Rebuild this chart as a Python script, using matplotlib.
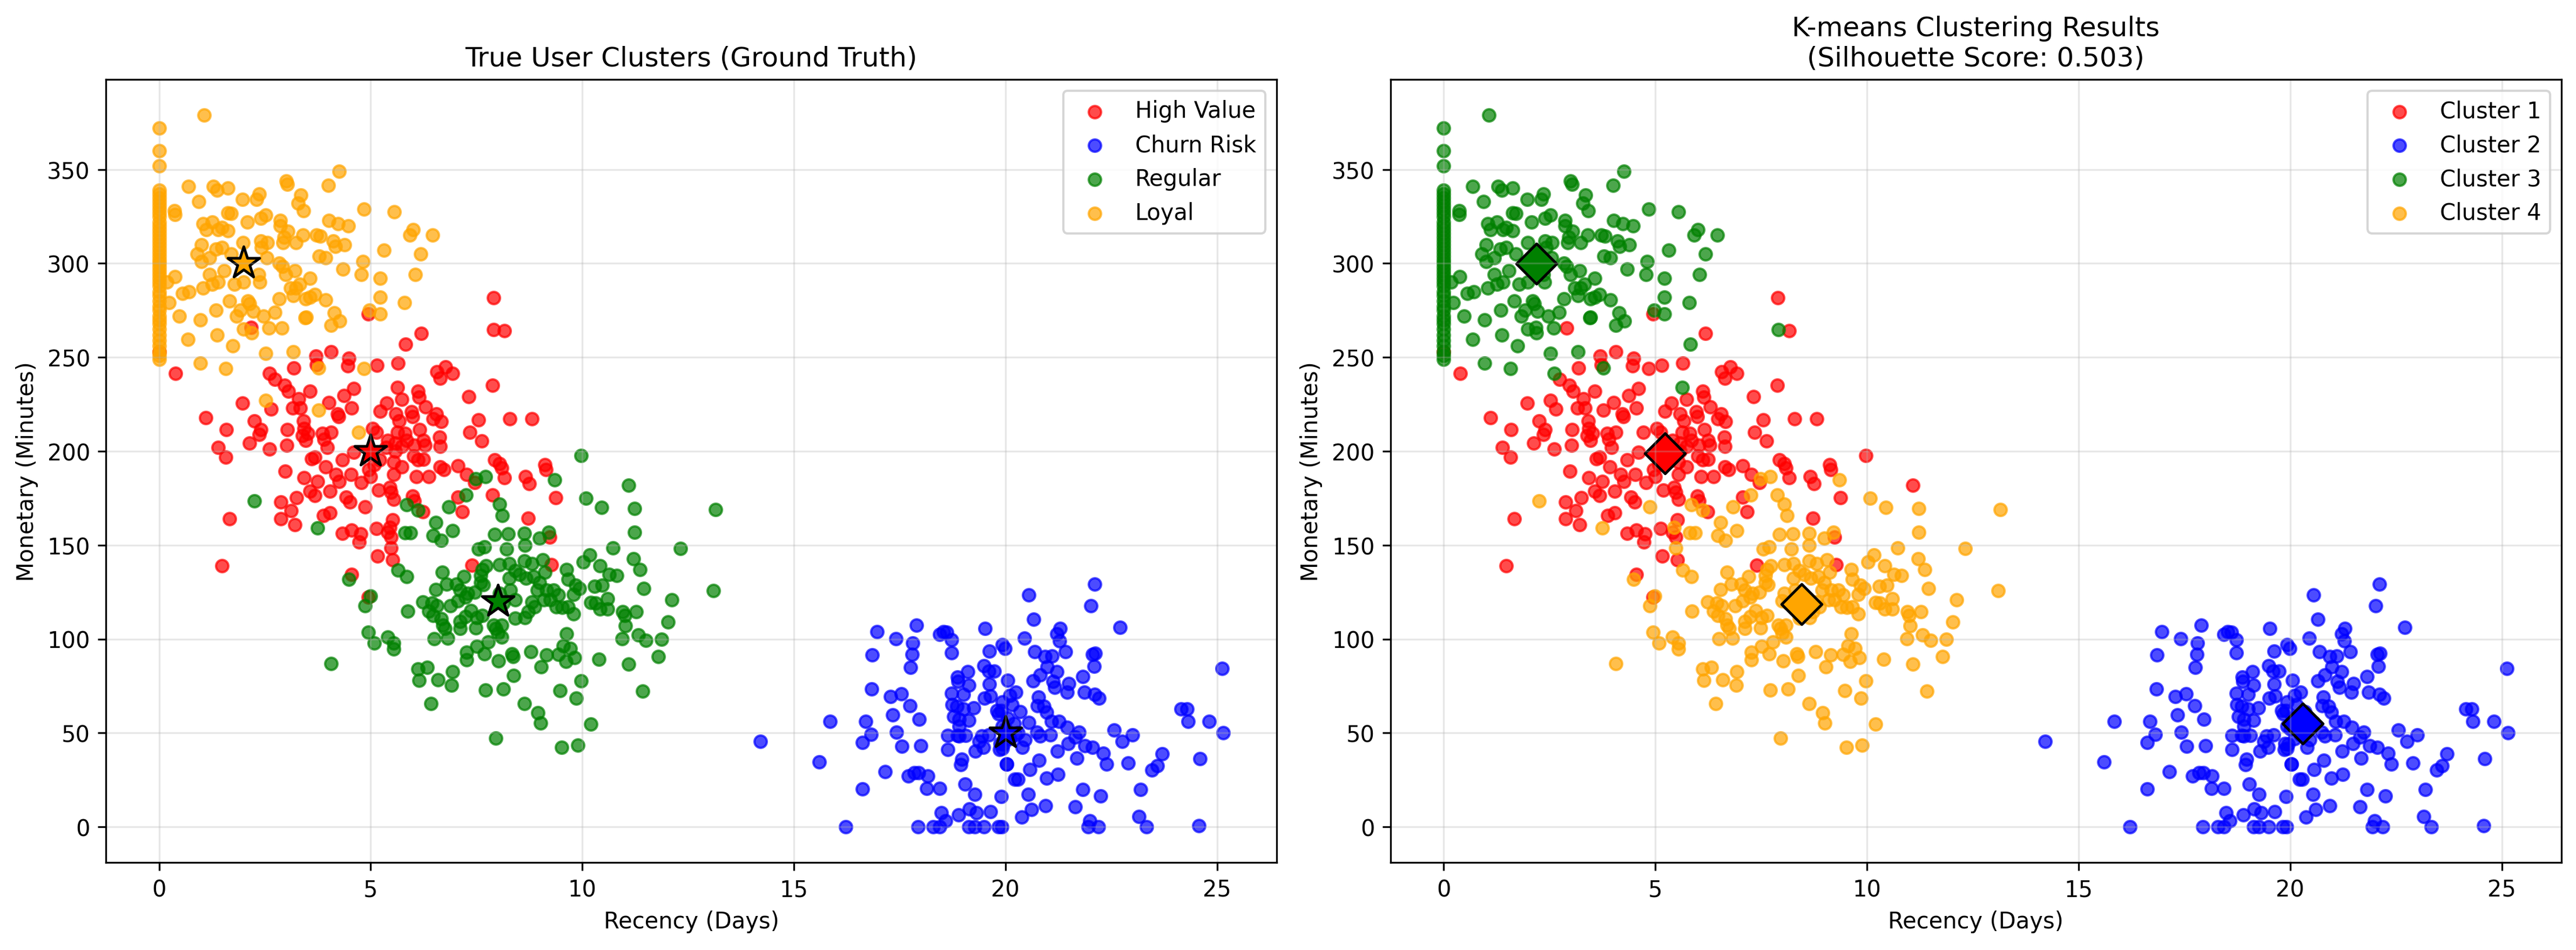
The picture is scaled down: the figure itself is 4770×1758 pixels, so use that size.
import numpy as np
import matplotlib
matplotlib.use("Agg")
import matplotlib.pyplot as plt

# ----------------------------
# Data
# ----------------------------

segment_names = ["High Value", "Churn Risk", "Regular", "Loyal"]
segment_colors = ["red", "blue", "green", "orange"]
cluster_names = ["Cluster 1", "Cluster 2", "Cluster 3", "Cluster 4"]
cluster_colors = ["red", "blue", "green", "orange"]

# High Value users (recency, monetary); the last points were re-assigned by k-means
high_value_pts = [
    (8.16, 264.1), (6.19, 262.8), (4.06, 253), (3.70, 250.6), (4.49, 249.4), (4.46, 245.5),
    (5.15, 245.8), (5.65, 246.8), (3.18, 244.2), (0.39, 241.3), (2.74, 238.4), (6.57, 242.3),
    (6.77, 244.9), (6.64, 238.8), (6.93, 241.3), (7.88, 235), (2.97, 235), (3.06, 232),
    (3.57, 232), (4.60, 233.3), (4.37, 229.5), (6.12, 232), (6.14, 228.8), (5.74, 227.5),
    (7.32, 229.2), (1.97, 225.6), (3.30, 227.8), (3.34, 223), (4.01, 226), (3.16, 223),
    (2.65, 222.4), (4.55, 223), (4.22, 220), (4.24, 218.5), (5.38, 225.6), (5.23, 221.4),
    (5.59, 220), (6.30, 223.7), (5.97, 221), (5.99, 218.5), (6.55, 219.8), (6.66, 215.7),
    (6.48, 217.3), (1.10, 217.9), (7.55, 216.6), (8.29, 217.3), (8.81, 217.3), (2.25, 216),
    (2.40, 211.5), (2.36, 208.9), (1.59, 211.5), (3.03, 211.5), (3.41, 216), (3.43, 212),
    (3.39, 208.3), (3.52, 209.6), (3.86, 209.6), (4.06, 210.2), (3.90, 206.4), (5.04, 212),
    (5.13, 210.2), (5.67, 216), (5.63, 210.2), (5.81, 209.6), (6.16, 211.5), (6.63, 207.6),
    (7.34, 210.2), (7.62, 205.5), (3.46, 205.7), (2.13, 204.4), (1.39, 201.9), (1.58, 196.7),
    (2.61, 201.2), (3.02, 203.1), (3.97, 201.9), (3.68, 196.7), (3.61, 196), (4.60, 199.3),
    (5.40, 205.7), (5.58, 204.4), (5.85, 205.7), (5.36, 201.9), (5.58, 200), (5.74, 202.5),
    (6.03, 203.1), (6.25, 205.7), (6.28, 203.1), (6.64, 202.5), (6.01, 197.4), (6.12, 195.4),
    (6.25, 195.7), (5.21, 195.4), (5.09, 192.9), (5.54, 194.2), (4.33, 195.4), (3.93, 191.6),
    (2.98, 189.4), (3.43, 185.8), (3.75, 183.9), (4.18, 187.7), (4.53, 187.5), (4.96, 190.3),
    (5.74, 191.6), (5.54, 187.7), (6.08, 186.5), (6.37, 186.5), (6.64, 191.6), (6.73, 190.3),
    (7.06, 192.2), (7.27, 187.7), (7.93, 195.4), (8.05, 193.5), (8.09, 191), (8.16, 185.8),
    (7.46, 183.2), (9.12, 192.9), (9.14, 190.3), (8.66, 186.5), (8.75, 182.6), (9.37, 175.2),
    (7.06, 175.5), (7.17, 167.8), (8.72, 164.4), (4.26, 183.9), (4.78, 183.2), (5.00, 186.5),
    (5.45, 180.7), (5.48, 178.1), (5.19, 179.4), (4.04, 178.8), (3.57, 178.8), (3.68, 176.5),
    (4.42, 175.5), (4.51, 173), (5.54, 174.3), (5.99, 176.2), (6.03, 173.6), (2.88, 173),
    (3.25, 175.2), (3.12, 168.5), (6.23, 167.8), (1.67, 164), (2.88, 164), (3.21, 160.8),
    (3.88, 165.9), (4.04, 167.2), (4.33, 156.3), (4.55, 158), (4.76, 155.9), (4.73, 151.8),
    (5.13, 158.9), (5.40, 156.9), (5.48, 154.4), (5.52, 163.4), (5.16, 144.1), (5.52, 142.2),
    (1.48, 139), (7.39, 139.2), (9.27, 139.6), (9.23, 154.4), (4.55, 134.4), (4.94, 122.3),
    (7.90, 281.6), (4.94, 273), (0.0, 253), (3.72, 246),
    # re-assigned by k-means
    (4.87, 170.4), (5.45, 159.5), (7.88, 176.6), (5.48, 148.6),
    (7.91, 264.8), (5.63, 234), (2.61, 241.3), (5.83, 257), (2.18, 266),
]
high_value_km_tail = [4, 4, 4, 4, 3, 3, 3, 3, 3]

churn_pts = [
    (14.21, 45.6), (15.85, 56.2), (15.60, 34.5), (16.22, 0), (16.62, 20.1), (16.69, 56.2),
    (16.82, 49.3), (16.62, 45), (16.84, 73.5), (16.97, 103.8), (16.85, 91.4), (17.41, 100.2),
    (17.90, 107.4), (17.81, 97.9), (17.80, 91.8), (17.76, 84.8), (17.28, 69.3), (17.54, 70.9),
    (17.74, 64.6), (17.34, 59.5), (17.96, 57.2), (17.43, 50.5), (17.55, 42.8), (18.0, 43.3),
    (17.15, 29.4), (17.70, 27), (17.85, 28.9), (17.95, 28.9), (18.16, 27), (18.14, 20.4),
    (18.44, 20.4), (17.94, 0), (18.29, 0), (18.44, 0), (18.48, 7.4), (18.58, 3.1),
    (18.89, 6.4), (19.15, 9.5), (19.31, 7.4), (19.64, 8.2), (19.14, 0), (19.27, 0),
    (19.49, 0), (19.83, 0), (19.04, 22.9), (19.27, 17.3), (19.90, 16.2), (20.03, 33.5),
    (20.22, 25.3), (18.97, 36.1), (18.94, 33), (18.63, 41.2), (18.63, 48.7), (18.86, 48.7),
    (19.06, 48.7), (18.91, 48.5), (19.29, 40.2), (19.48, 42.3), (19.38, 45.4), (19.44, 48.5),
    (19.61, 49), (19.86, 41.2), (19.88, 44.3), (18.53, 103.8), (18.44, 102.6), (18.61, 103.6),
    (18.73, 99.5), (18.73, 92.6), (19.52, 105.5), (19.62, 93.5), (19.93, 96.9), (19.99, 95),
    (19.49, 85.8), (19.60, 83), (19.73, 83), (19.11, 82.5), (18.87, 79.6), (18.88, 77.3),
    (19.14, 75.5), (19.62, 76.1), (20.05, 78.1), (18.73, 71.1), (19.01, 70.6), (19.50, 68.6),
    (19.65, 69.6), (19.93, 66.5), (20.10, 70.1), (18.74, 65), (18.85, 64.1), (19.01, 62.9),
    (19.25, 63.4), (19.80, 61.9), (19.84, 60.3), (18.78, 58.8), (18.91, 57.2), (19.14, 56.7),
    (18.91, 53.6), (19.93, 53.6),
    (20.55, 123.5), (22.11, 129.1), (22.02, 117.8), (20.66, 110.4), (22.71, 106.2), (20.45, 100.5),
    (21.29, 105.5), (21.21, 102.9), (21.28, 99), (21.42, 93.3), (20.69, 93.3), (20.93, 90.7),
    (21.10, 91), (22.06, 91.8), (22.12, 92.3), (22.09, 85.6), (20.99, 85.1), (21.21, 82.5),
    (20.82, 81), (20.65, 77.6), (21.12, 77.3), (21.16, 74.2), (21.50, 76.3), (21.45, 71.6),
    (21.82, 80.1), (21.86, 71.6), (22.11, 70.6), (22.21, 68.4), (20.25, 71.6), (20.78, 69),
    (20.76, 64.6), (20.91, 64.1), (20.97, 60.9), (20.35, 61.4), (20.55, 55.7), (21.08, 56.2),
    (21.27, 56.2), (21.46, 53.1), (21.74, 50.5), (21.65, 47.9), (20.25, 49), (20.74, 50.5),
    (20.82, 48.5), (21.06, 49), (20.46, 46.4), (20.40, 42.3), (19.93, 41.8), (21.48, 44.3),
    (21.23, 40.4), (21.88, 43.1), (22.06, 42.3), (22.31, 39.2), (22.39, 33.5), (21.68, 36.6),
    (22.56, 51.5), (22.76, 45.4), (23.0, 48.9), (22.90, 34), (23.70, 39), (23.59, 32.5),
    (23.46, 30.2), (24.15, 62.7), (24.29, 62.9), (24.32, 56.2), (24.81, 56.2), (25.15, 50.2),
    (25.12, 84.2), (24.60, 36.3), (24.57, 0.5), (20.03, 33.5), (20.79, 35.4), (20.57, 30.4),
    (20.29, 25.3), (20.97, 25.8), (21.24, 28), (20.54, 17.3), (20.61, 9.3), (20.94, 11.3),
    (20.38, 5.2), (19.91, 0), (21.82, 19.9), (22.25, 16.5), (21.65, 10.8), (21.99, 3.1),
    (21.95, 0), (22.19, 0), (23.19, 19.9), (23.15, 5.6), (23.33, 0),
    (20.0, 52), (20.1, 47), (19.95, 44), (20.2, 55), (20.05, 58), (20.3, 50), (19.9, 62), (20.15, 65),
]
churn_km_tail = []

regular_pts = [
    (7.71, 186.5), (7.48, 185.2), (9.35, 184.9), (7.25, 176.8), (10.08, 174.9), (10.45, 170),
    (11.23, 169.5), (2.25, 173.4), (8.05, 171.7), (8.11, 165.9), (5.85, 171.4), (6.12, 168.7),
    (6.84, 170.4), (3.75, 159.1), (6.54, 162.1), (6.93, 157.6), (5.81, 156.7), (5.94, 156.7),
    (6.48, 155), (6.66, 152.4), (11.23, 156.9), (8.63, 156.3), (8.99, 153.7), (9.21, 156.9),
    (7.93, 155.6), (8.25, 155.9), (8.64, 149.9), (8.21, 148), (7.55, 148), (7.69, 149.2),
    (10.73, 148.6), (12.32, 148.2), (10.17, 144.7), (10.02, 140.9), (11.21, 142.8), (11.36, 137),
    (10.42, 139), (10.82, 133.8), (10.64, 134.5), (9.63, 137), (9.66, 131.9), (9.84, 128.7),
    (9.93, 126.8), (10.29, 128), (10.47, 128.7), (11.45, 126.8), (12.12, 121), (9.79, 123.8),
    (10.31, 119.1), (10.60, 121.6), (10.20, 119.4), (10.42, 115.9), (10.60, 116.1), (10.96, 114.6),
    (11.0, 112.6), (11.27, 114.6), (12.03, 109.2), (11.02, 107.1), (11.32, 102.1), (11.50, 99.4),
    (11.87, 99.8), (10.94, 100.2), (9.63, 102.8), (9.55, 96.3), (9.72, 95), (9.44, 91.7),
    (9.61, 88.2), (9.82, 90.2), (9.15, 91.5), (8.79, 93.4), (9.03, 85.3), (10.39, 89.1),
    (11.09, 86.6), (11.79, 90.8), (11.42, 72.2), (9.97, 77.6), (9.86, 68.6), (9.48, 72.5),
    (8.38, 80.6), (8.14, 73.5), (8.36, 90.8), (8.34, 92.1), (8.02, 88.3), (7.71, 72.8),
    (7.27, 93), (7.27, 88.9), (7.51, 96), (7.69, 92.1), (7.78, 98.5), (8.09, 101.1),
    (7.96, 105.6), (8.0, 103), (6.91, 75.4), (6.93, 82.5), (6.59, 78.4), (6.12, 84),
    (6.33, 84.8), (6.14, 78), (6.43, 65.5), (8.63, 65.5), (4.06, 87), (4.94, 103.7),
    (5.09, 97.9), (5.40, 101.1), (5.54, 97.9), (5.54, 94.7), (6.50, 100.2), (6.82, 100.4),
    (7.48, 105.8), (4.87, 117.8), (4.99, 122.9), (4.49, 131.9), (5.65, 136.6), (5.85, 133.2),
    (6.69, 135.7), (7.20, 133.2), (7.02, 129.3), (6.80, 129.3), (6.54, 126.4), (6.23, 119.7),
    (6.45, 119.1), (6.57, 117.8), (6.88, 117.8), (6.48, 112.6), (6.66, 110.7), (6.70, 107.5),
    (6.75, 105.6), (5.87, 114.8), (6.37, 114.8), (7.11, 126.1), (7.29, 124.2), (7.11, 109.4),
    (7.24, 112), (7.37, 115.2), (7.51, 111.4), (7.64, 112.6), (7.66, 128.9), (7.60, 133.8),
    (7.73, 139), (7.64, 137), (8.05, 139.6), (8.27, 140.2), (8.27, 132.5), (8.41, 136.4),
    (8.30, 126.1), (8.41, 121), (8.63, 141.5), (8.81, 140.2), (9.06, 142.2), (9.12, 135.7),
    (8.52, 134.5), (8.67, 132.5), (8.85, 133.2), (8.99, 130), (8.94, 126.1), (9.16, 126.1),
    (9.32, 126.1), (8.81, 119.7), (8.88, 117.1), (9.09, 121), (9.24, 121), (9.44, 123.6),
    (9.39, 117.1), (9.53, 116.9), (9.66, 117.1), (9.79, 113.3), (8.72, 114.6), (8.65, 111.4),
    (8.41, 111), (8.09, 107.5), (7.91, 107.5), (8.14, 119.1), (8.0, 120.3), (8.05, 124.2),
    (7.60, 130), (7.46, 124.8), (7.24, 122.3), (7.06, 120.3), (7.11, 105.6), (13.15, 169),
    (13.1, 125.7), (7.96, 47.1), (8.95, 60.8), (9.01, 55.3), (10.2, 54.6), (9.51, 42.3),
    (9.89, 43.6),
    # re-assigned by k-means
    (9.97, 197.8), (11.09, 182),
]
regular_km_tail = [1, 1]

loyal_col_y = [
    372, 360, 352, 339, 337, 335, 333, 331, 329, 327, 325, 322, 320, 318, 316, 314, 312,
    310, 308, 306, 304, 302, 300, 298, 296, 294, 292, 290, 288, 285, 283, 280, 277, 275,
    272, 270, 268, 265, 262, 259, 256, 253, 251, 249,
]
loyal_pts = [(0.0, v) for v in loyal_col_y] + [
    (1.07, 379), (0.69, 341), (0.94, 333), (1.28, 341), (1.37, 339), (1.63, 340), (1.97, 334),
    (2.30, 334), (2.36, 337), (3.00, 344), (3.03, 342), (4.26, 349), (4.00, 341.5), (3.35, 336.5),
    (3.29, 332), (3.41, 328), (4.84, 329), (5.55, 327.5), (0.36, 328), (0.37, 326), (1.70, 326.5),
    (1.63, 327), (2.08, 322), (2.40, 324), (2.52, 325.6), (2.86, 323), (2.86, 320), (3.04, 317),
    (3.40, 315), (3.72, 315), (3.81, 314.6), (4.01, 323), (4.23, 321), (4.47, 320), (4.11, 312),
    (4.38, 310), (4.16, 309), (6.00, 318), (5.92, 315), (6.46, 315), (1.04, 321), (1.26, 322),
    (1.11, 318), (1.40, 318), (1.48, 319), (1.63, 317.5), (1.98, 311), (2.40, 312), (2.56, 311),
    (2.42, 308.5), (2.95, 314), (2.93, 311), (3.23, 311), (1.00, 310), (0.90, 305), (1.00, 301),
    (1.19, 303), (1.34, 307.5), (1.48, 308.5), (1.70, 305), (3.78, 304), (3.94, 303), (4.81, 301),
    (4.34, 297), (4.78, 294), (5.32, 307), (6.18, 305), (6.05, 294), (5.22, 292), (2.55, 303),
    (2.84, 300), (2.91, 298.5), (2.99, 294), (3.21, 296), (3.57, 292), (1.54, 296), (1.19, 294),
    (0.38, 293), (0.18, 290), (1.26, 289), (1.40, 290), (1.78, 289), (1.99, 290), (2.35, 294),
    (2.38, 290), (1.04, 287), (0.71, 285), (0.56, 284), (3.10, 287), (3.24, 287), (3.32, 289),
    (3.57, 282), (3.68, 283.5), (3.46, 281), (3.94, 280.5), (3.17, 283), (5.22, 282), (5.80, 279),
    (2.84, 281), (1.67, 280), (2.10, 280), (2.14, 278.5), (0.23, 279), (1.35, 275), (1.83, 272),
    (1.92, 275), (2.22, 274.5), (2.47, 272), (2.73, 274), (3.45, 271), (3.47, 271.3), (4.14, 273.6),
    (4.27, 269.4), (4.06, 267), (5.22, 273), (4.97, 275), (0.48, 272), (0.97, 270), (1.99, 265),
    (2.19, 263), (2.60, 265.5), (1.37, 262), (0.68, 259.5), (1.74, 256), (2.52, 252), (3.17, 253),
    (0.97, 247), (1.58, 244), (3.77, 244.4),
    # re-assigned by k-means
    (2.52, 227), (3.77, 222), (4.72, 210), (4.84, 244), (2.90, 265.5),
]
loyal_km_tail = [1, 1, 1, 1, 1]

# true segment centres (stars) and k-means centres (diamonds)
true_centers = [(5, 200), (20, 50), (8, 120), (2, 300)]
kmeans_centers = [(5.23, 198.9), (20.3, 55), (2.19, 299.8), (8.45, 118.7)]
silhouette = 0.503

segments = [
    (high_value_pts, 1, high_value_km_tail),
    (churn_pts, 2, churn_km_tail),
    (regular_pts, 4, regular_km_tail),
    (loyal_pts, 3, loyal_km_tail),
]

# ----------------------------
# Plot
# ----------------------------

fig = plt.figure(figsize=(15.9, 5.863), dpi=300)
ax1 = fig.add_axes([0.0411, 0.0921, 0.4545, 0.8238])
ax2 = fig.add_axes([0.5398, 0.0921, 0.4545, 0.8238])

# Ground truth

for (pts, _, _), name, color in zip(segments, segment_names, segment_colors):
    arr = np.array(pts, dtype=float)
    ax1.scatter(arr[:, 0], arr[:, 1], c=color, label=name, alpha=0.7, s=30)

for (cx, cy), color in zip(true_centers, segment_colors):
    ax1.scatter(cx, cy, c=color, marker="*", s=220,
                edgecolors="black", linewidths=1.2)

ax1.set_title("True User Clusters (Ground Truth)", fontsize=12)
ax1.set_xlabel("Recency (Days)")
ax1.set_ylabel("Monetary (Minutes)")
ax1.legend(loc="upper right")
ax1.grid(True, alpha=0.3)

# K-means

all_x, all_y, all_lab = [], [], []
for pts, default, tail in segments:
    n = len(pts)
    labels = [default] * (n - len(tail)) + list(tail)
    for (px, py), lab in zip(pts, labels):
        all_x.append(px)
        all_y.append(py)
        all_lab.append(lab)

all_x = np.array(all_x)
all_y = np.array(all_y)
all_lab = np.array(all_lab)

for k, (name, color) in enumerate(zip(cluster_names, cluster_colors), start=1):
    mask = all_lab == k
    ax2.scatter(all_x[mask], all_y[mask], c=color, label=name, alpha=0.7, s=30)

for (cx, cy), color in zip(kmeans_centers, cluster_colors):
    ax2.scatter(cx, cy, c=color, marker="D", s=160,
                edgecolors="black", linewidths=1.2)

ax2.set_title(
    f"K-means Clustering Results\n(Silhouette Score: {silhouette:.3f})",
    fontsize=12
)
ax2.set_xlabel("Recency (Days)")
ax2.set_ylabel("Monetary (Minutes)")
ax2.legend(loc="upper right")
ax2.grid(True, alpha=0.3)

fig.savefig("out.png", dpi=300)
